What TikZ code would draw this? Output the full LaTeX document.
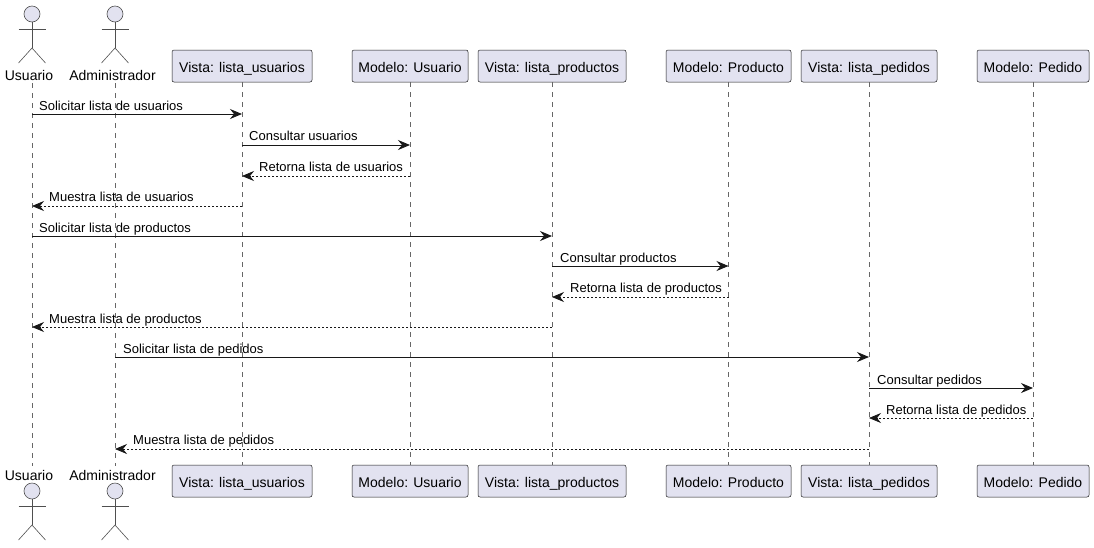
\documentclass[tikz,border=0pt]{standalone}
\usepackage{fontspec}
\setmainfont{Liberation Sans}
\usetikzlibrary{calc,arrows.meta}
\definecolor{pfill}{HTML}{E2E2F0}
\definecolor{pline}{HTML}{181818}
\definecolor{lifec}{HTML}{666666}
\tikzset{
  x=1pt,y=-1pt,
  pbox/.style={draw=pline,fill=pfill,rounded corners=2pt,line width=.5pt,minimum height=32pt,inner sep=0pt,text height=14pt,text depth=2pt,text=black,font=\fontsize{14}{16}\selectfont},
  alabel/.style={inner sep=0pt,text height=10pt,text depth=3pt,text=black,font=\fontsize{14}{16}\selectfont},
  mlabel/.style={inner sep=0pt,anchor=base west,text=black,font=\fontsize{13}{15}\selectfont},
  life/.style={draw=lifec,line width=.5pt,dash pattern=on 5pt off 5pt},
  figure/.style={draw=lifec!70!pline,line width=.6pt},
  sync/.style={draw=pline,line width=.9pt,-{Stealth[length=12pt,width=10pt,inset=4pt]}},
  reply/.style={draw=pline,line width=.7pt,dash pattern=on 2pt off 2pt,-{Stealth[length=12pt,width=10pt,inset=4pt]}},
}
\newcommand{\actorfig}[2]{% x, head y
  \draw[figure,fill=pfill] (#1,#2) circle (8);
  \draw[figure] (#1,#2+8) -- (#1,#2+34);
  \draw[figure] (#1-13.5,#2+15) -- (#1+13.5,#2+15);
  \draw[figure] (#1-13.5,#2+49) -- (#1,#2+34) -- (#1+13.5,#2+49);
}
\newcommand{\msgline}[6]{% style, from, to, y, label position, label
  \coordinate (s#4) at (#2 |- 0,#4);
  \coordinate (e#4) at (#3 |- 0,#4);
  \draw[#1] (s#4) -- (e#4);
  \node[mlabel] (l#4) at (#5) {#6};
}
\begin{document}
\begin{tikzpicture}
\useasboundingbox (0,0) rectangle (1094,547);
% top participants
\node[alabel] (u) at (29,77) {Usuario};
\node[alabel] (a) at (112.5,77) {Administrador};
\node[pbox,minimum width=140pt] (lu) at (242,66) {Vista: lista\_usuarios};
\node[pbox,minimum width=116pt] (mu) at (410,66) {Modelo: Usuario};
\node[pbox,minimum width=148pt] (lp) at (552,66) {Vista: lista\_productos};
\node[pbox,minimum width=125pt] (mp) at (728.5,66) {Modelo: Producto};
\node[pbox,minimum width=136pt] (lq) at (869,66) {Vista: lista\_pedidos};
\node[pbox,minimum width=112pt] (mq) at (1033,66) {Modelo: Pedido};
% bottom participants
\node[alabel] (ub) at (29,477) {Usuario};
\node[alabel] (ab) at (112.5,477) {Administrador};
\node[pbox,minimum width=140pt] (lub) at (242,481) {Vista: lista\_usuarios};
\node[pbox,minimum width=116pt] (mub) at (410,481) {Modelo: Usuario};
\node[pbox,minimum width=148pt] (lpb) at (552,481) {Vista: lista\_productos};
\node[pbox,minimum width=125pt] (mpb) at (728.5,481) {Modelo: Producto};
\node[pbox,minimum width=136pt] (lqb) at (869,481) {Vista: lista\_pedidos};
\node[pbox,minimum width=112pt] (mqb) at (1033,481) {Modelo: Pedido};
% lifeline anchors
\coordinate (U) at (32,83); \coordinate (Ub) at (32,466);
\coordinate (A) at (115,83); \coordinate (Ab) at (115,466);
\draw[life] (U) -- (Ub);
\draw[life] (A) -- (Ab);
\draw[life] (lu.south) -- (lub.north);
\draw[life] (mu.south) -- (mub.north);
\draw[life] (lp.south) -- (lpb.north);
\draw[life] (mp.south) -- (mpb.north);
\draw[life] (lq.south) -- (lqb.north);
\draw[life] (mq.south) -- (mqb.north);
% actors
\actorfig{32}{14}
\actorfig{115}{14}
\actorfig{32}{491}
\actorfig{115}{491}
% messages
\msgline{sync}{U}{lu}{114}{39,110}{Solicitar lista de usuarios}
\msgline{sync}{lu}{mu}{145}{249,140}{Consultar usuarios}
\msgline{reply}{mu}{lu}{176}{259,171}{Retorna lista de usuarios}
\msgline{reply}{lu}{U}{206}{49,201}{Muestra lista de usuarios}
\msgline{sync}{U}{lp}{236}{39,232}{Solicitar lista de productos}
\msgline{sync}{lp}{mp}{266}{560,262}{Consultar productos}
\msgline{reply}{mp}{lp}{297}{570,292}{Retorna lista de productos}
\msgline{reply}{lp}{U}{327}{49,323}{Muestra lista de productos}
\msgline{sync}{A}{lq}{357}{123,353}{Solicitar lista de pedidos}
\msgline{sync}{lq}{mq}{388}{877,384}{Consultar pedidos}
\msgline{reply}{mq}{lq}{418}{886,414}{Retorna lista de pedidos}
\msgline{reply}{lq}{A}{449}{133,444}{Muestra lista de pedidos}
\end{tikzpicture}
\end{document}
